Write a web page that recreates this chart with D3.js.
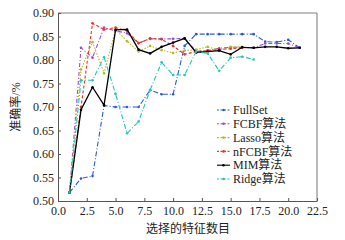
<!DOCTYPE html>
<html>
<head>
<meta charset="utf-8">
<script src="https://cdn.jsdelivr.net/npm/d3@7"></script>
<style>
  body { margin: 0; background: #fff; }
  text { font-family: "Liberation Serif", "Noto Sans CJK SC", serif; }
</style>
</head>
<body>
<div id="chart"></div>
<script>
// data
var features = [1,2,3,4,5,6,7,8,9,10,11,12,13,14,15,16,17,18,19,20,21];
var fullSet = [0.518,0.548,0.553,0.703,0.700,0.700,0.700,0.736,0.727,0.727,0.830,0.855,0.855,0.855,0.855,0.855,0.855,0.839,0.838,0.843,0.826];
var fcbf    = [0.518,0.826,0.805,0.869,0.862,0.857,0.836,0.845,0.845,0.845,0.846,0.818,0.820,0.825,0.827,0.827,0.826,0.835,0.835,0.835,0.826];
var lasso   = [0.518,0.780,0.838,0.772,0.865,0.840,0.818,0.830,0.821,0.815,0.820,0.822,0.828,0.821,0.828,0.828];
var nfcbf   = [0.518,0.700,0.878,0.865,0.869,0.862,0.836,0.846,0.844,0.830,0.812,0.818,0.820,0.822,0.824,0.826];
var mim     = [0.518,0.694,0.742,0.704,0.864,0.865,0.822,0.814,0.828,0.837,0.846,0.816,0.818,0.820,0.812,0.827,0.826,0.828,0.828,0.825,0.826];
var ridge   = [0.518,0.757,0.757,0.806,0.728,0.644,0.669,0.736,0.795,0.768,0.768,0.818,0.814,0.777,0.805,0.807,0.801];

var seriesNames = ["FullSet","FCBF算法","Lasso算法","nFCBF算法","MIM算法","Ridge算法"];
var seriesValues = [fullSet, fcbf, lasso, nfcbf, mim, ridge];
var colors = ["#2a5bd7","#9b4fc6","#b8b832","#f0302a","#000000","#22c4c0"];
var dashes = ["5,2,1,2","4,2,1,2","1.5,1.5","3,2","none","5,2,1,2"];

var xTicks = [0,2.5,5,7.5,10,12.5,15,17.5,20,22.5];
var yTicks = [0.50,0.55,0.60,0.65,0.70,0.75,0.80,0.85,0.90];

function draw(){
    var w = 345, h = 240;
    var pL = 58, pR = 317, pT = 13, pB = 201; // plot box

    var svg = d3.select("#chart").append("svg")
        .attr("width", w)
        .attr("height", h);

    var xScale = d3.scaleLinear().domain([0,22.5]).range([pL,pR]);
    var yScale = d3.scaleLinear().domain([0.5,0.9]).range([pB,pT]);

    // frame (top & right in grey)
    svg.append("line").attr("x1",pL).attr("x2",pR).attr("y1",pT).attr("y2",pT)
        .attr("stroke","#aaa").attr("stroke-width",1.5);
    svg.append("line").attr("x1",pR).attr("x2",pR).attr("y1",pT).attr("y2",pB)
        .attr("stroke","#777").attr("stroke-width",1);

    var xAxis = d3.axisBottom(xScale).tickValues(xTicks).tickSizeInner(-3).tickSizeOuter(0)
        .tickFormat(d3.format(".1f"));
    var yAxis = d3.axisLeft(yScale).tickValues(yTicks).tickSizeInner(-3).tickSizeOuter(0)
        .tickFormat(d3.format(".2f"));

    var gx = svg.append("g").attr("transform",`translate(0,${pB})`).call(xAxis);
    gx.selectAll("text").attr("font-size",12).attr("y",5).attr("dy","0.71em").attr("fill","#222");
    var gy = svg.append("g").attr("transform",`translate(${pL},0)`).call(yAxis);
    gy.selectAll("text").attr("font-size",12).attr("x",-4).attr("fill","#222");
    svg.selectAll(".domain").attr("stroke","#555");
    svg.selectAll(".tick line").attr("stroke","#555");

    var line = d3.line()
        .x(function(d,i){ return xScale(features[i]); })
        .y(function(d){ return yScale(d); });

    seriesValues.forEach(function(vals, k){
        svg.append("path")
            .datum(vals)
            .attr("d", line)
            .attr("fill","none")
            .attr("stroke", colors[k])
            .attr("stroke-width", k == 4 ? 1.3 : 1.1)
            .attr("stroke-dasharray", dashes[k]);
        svg.selectAll(".pt"+k)
            .data(vals)
            .enter().append("circle")
            .attr("class","pt"+k)
            .attr("cx", function(d,i){ return xScale(features[i]); })
            .attr("cy", function(d){ return yScale(d); })
            .attr("r", 1.3)
            .attr("fill", colors[k]);
    });

    // legend
    var leg = svg.append("g");
    seriesNames.forEach(function(name, k){
        var y = 110 + k*13.8;
        leg.append("line").attr("x1",217).attr("x2",230).attr("y1",y).attr("y2",y)
            .attr("stroke",colors[k]).attr("stroke-width",1.1)
            .attr("stroke-dasharray", dashes[k] == "none" ? null : "2,1.5");
        leg.append("circle").attr("cx",223.5).attr("cy",y).attr("r",1.3).attr("fill",colors[k]);
        leg.append("text").attr("x",233).attr("y",y).attr("dy","0.35em")
            .attr("font-size",12).attr("fill","#222").text(name);
    });

    // axis titles
    svg.append("text")
        .attr("x", 188).attr("y", 233)
        .attr("text-anchor","middle")
        .attr("font-size",12).attr("fill","#222")
        .text("选择的特征数目");
    svg.append("text")
        .attr("transform","translate(20,107) rotate(-90)")
        .attr("text-anchor","middle")
        .attr("font-size",12).attr("fill","#222")
        .text("准确率/%");
}
window.onload = draw;
</script>
</body>
</html>
